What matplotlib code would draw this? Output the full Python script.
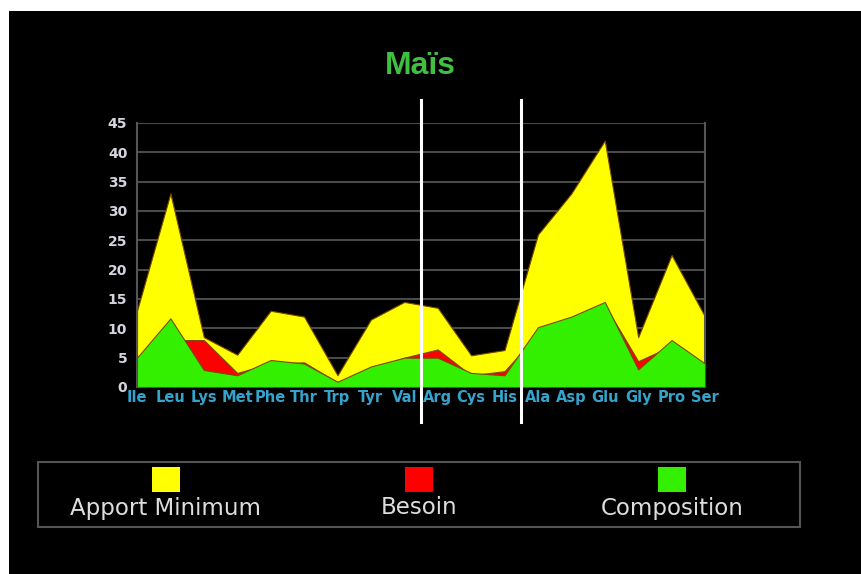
import matplotlib
matplotlib.use('Agg')
import matplotlib.pyplot as plt
from matplotlib.patches import Rectangle

plt.rcParams['font.family'] = ['Liberation Sans', 'DejaVu Sans']

# amino acids on the x axis
acides = ['Ile', 'Leu', 'Lys', 'Met', 'Phe', 'Thr', 'Trp', 'Tyr', 'Val',
          'Arg', 'Cys', 'His', 'Ala', 'Asp', 'Glu', 'Gly', 'Pro', 'Ser']

# series values
apport_minimum = [13, 33, 8.5, 5.5, 13, 12, 2, 11.5, 14.5,
                  13.5, 5.4, 6.3, 26, 33, 42, 8.5, 22.5, 12]
besoin = [4, 8, 8, 2.4, 4, 4.2, 0.8, 3, 5,
          6.4, 2, 2.7, 9, 11, 14, 4.4, 7, 3.5]
composition = [5, 11.7, 2.9, 2, 4.6, 4, 0.9, 3.5, 5,
               5, 2.4, 2, 10.2, 12, 14.5, 3, 8, 4]

legend_labels = ['Apport Minimum', 'Besoin', 'Composition']
colors = ['#ffff00', '#ff0000', '#33f000']
y_ticks = [0, 5, 10, 15, 20, 25, 30, 35, 40, 45]
separations = [8.5, 11.5]

W, H = 861, 574
fig = plt.figure(figsize=(W / 100, H / 100), dpi=100, facecolor='white')

# black background with a thin white border top/left
fig.patches.append(Rectangle((9 / W, 0), 1, 1 - 11 / H, transform=fig.transFigure,
                             facecolor='black', edgecolor='none', zorder=-5))

ax = fig.add_axes([137 / W, 1 - 387 / H, (705 - 137) / W, (387 - 123) / H])
ax.set_facecolor('black')
ax.set_zorder(1)

x = list(range(len(acides)))
edge = '#7a4a00'
ax.fill_between(x, 0, apport_minimum, color=colors[0], lw=0.8, edgecolor=edge, zorder=2)
ax.fill_between(x, 0, besoin, color=colors[1], lw=0.8, edgecolor=edge, zorder=3)
ax.fill_between(x, 0, composition, color=colors[2], lw=0.8, edgecolor=edge, zorder=4)

ax.set_xlim(0, len(acides) - 1)
ax.set_ylim(0, 45)
ax.set_yticks(y_ticks)
ax.set_yticklabels([str(v) for v in y_ticks], color='#d4d4e0', fontsize=10,
                   fontweight='bold', family='DejaVu Sans')
ax.set_xticks(x)
ax.set_xticklabels(acides, color='#34a4cc', fontsize=10.5, fontweight='bold',
                   family='DejaVu Sans')
ax.tick_params(axis='x', length=0, pad=2)
ax.tick_params(axis='y', length=0, pad=7)
ax.grid(axis='y', color='#4a4a4a', lw=1.5, zorder=1)

for side in ['top', 'bottom']:
    ax.spines[side].set_visible(False)
for side in ['left', 'right']:
    ax.spines[side].set_color('#555555')
    ax.spines[side].set_linewidth(1.5)

for s in separations:
    ax.axvline(s, ymin=-0.133, ymax=1.087, color='white', lw=2.2, clip_on=False, zorder=6)

fig.text(420 / W, 1 - 66 / H, 'Maïs', color='#40c040', fontsize=23, fontweight='bold',
         ha='center', va='center')

# legend box drawn by hand: square above each label
fig.patches.append(Rectangle((38 / W, 1 - 527 / H), (800 - 38) / W, (527 - 462) / H,
                             transform=fig.transFigure, facecolor='none',
                             edgecolor='#555555', lw=1.5, zorder=1))
centers = [166, 419, 672]
for cx, lab, col in zip(centers, legend_labels, colors):
    fig.patches.append(Rectangle(((cx - 14) / W, 1 - 492 / H), 28 / W, 25 / H,
                                 transform=fig.transFigure, facecolor=col,
                                 edgecolor='none', zorder=2))
    fig.text(cx / W, 1 - 508 / H, lab, color='#dddddd', fontsize=16.5,
             family='DejaVu Sans', ha='center', va='center')

fig.savefig('out.png', dpi=100, facecolor=fig.get_facecolor())
